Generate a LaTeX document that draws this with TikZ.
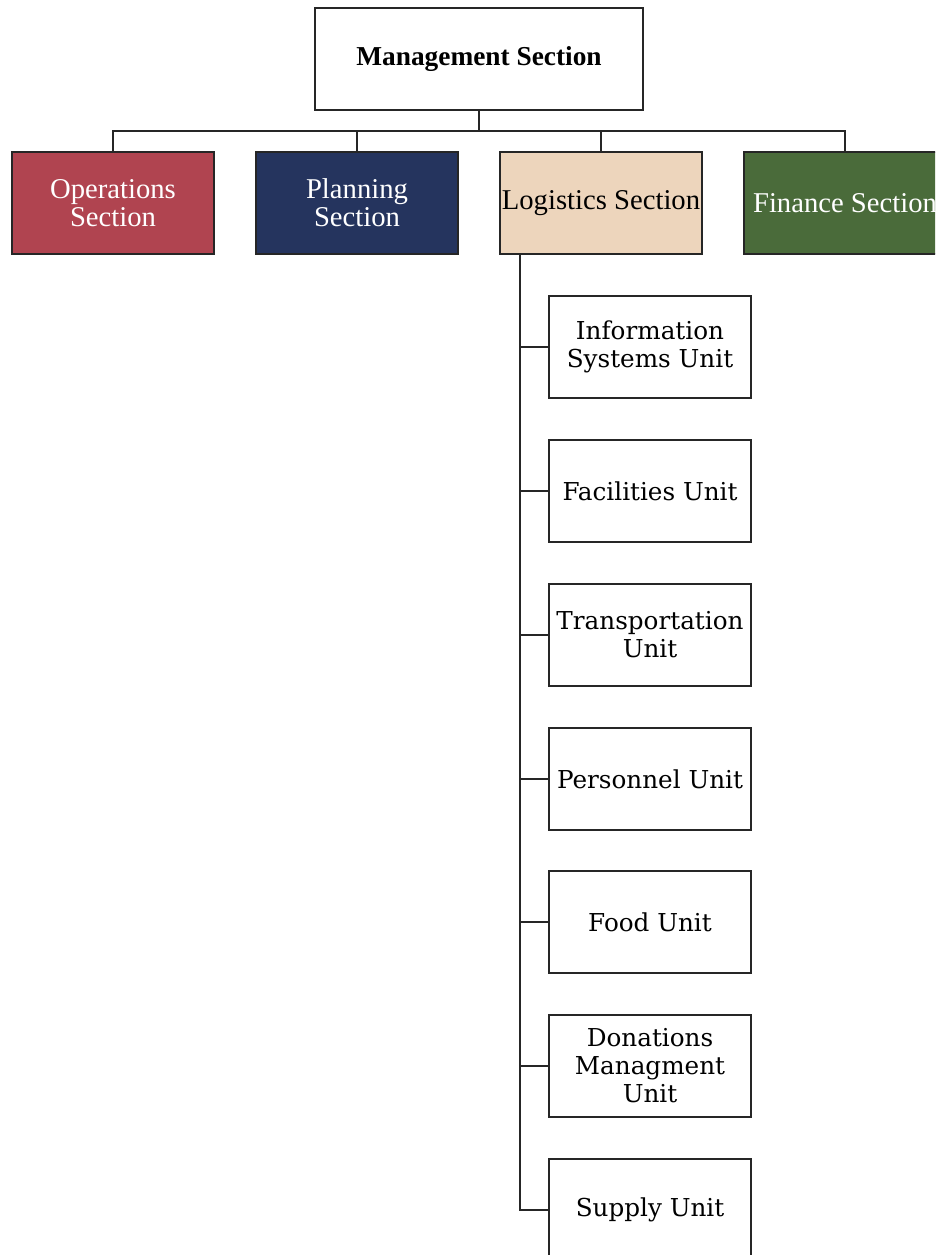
\documentclass[tikz,border=0pt]{standalone}
\usepackage{fontspec}
\setmainfont{Liberation Serif}
\newfontfamily\unitfont{DejaVu Serif}
\definecolor{opsred}{RGB}{176,68,80}
\definecolor{plannavy}{RGB}{37,52,94}
\definecolor{logtan}{RGB}{237,213,188}
\definecolor{fingreen}{RGB}{74,107,58}
\tikzset{
  box/.style={draw=black!85, line width=1.8pt, minimum width=151.5pt, minimum height=76.5pt, align=center, inner sep=0pt},
  secbox/.style={box, font=\fontsize{21.5}{21}\selectfont},
  unitbox/.style={box, font=\unitfont\fontsize{18.5}{21}\selectfont},
  link/.style={draw=black!85, line width=1.8pt}
}
\begin{document}
\begin{tikzpicture}[x=0.75pt, y=-0.75pt]
  \clip (0,0) rectangle (935,1255);
  \fill[white] (0,0) rectangle (935,1255);
  % top level
  \node[box, minimum width=246pt, font=\bfseries\fontsize{20.5}{22}\selectfont] (M) at (479,59) {Management Section};
  % sections
  \node[secbox, fill=opsred, text=white] (O) at (113,203) {Operations\\Section};
  \node[secbox, fill=plannavy, text=white] (P) at (357,203) {Planning\\Section};
  \node[secbox, fill=logtan, text=black] (L) at (601,203) {Logistics Section};
  \node[secbox, fill=fingreen, text=white] (F) at (845,203) {Finance Section};
  \coordinate (bus) at (479,131);
  \draw[link] (M.south) -- (bus);
  \draw[link] (O.north) |- (bus) -| (F.north);
  \draw[link] (P.north) -- (P.north |- bus);
  \draw[link] (L.north) -- (L.north |- bus);
  % logistics units
  \node[unitbox] (U1) at (650,347) {Information\\Systems Unit};
  \node[unitbox] (U2) at (650,491) {Facilities Unit};
  \node[unitbox] (U3) at (650,635) {Transportation\\Unit};
  \node[unitbox] (U4) at (650,779) {Personnel Unit};
  \node[unitbox] (U5) at (650,922) {Food Unit};
  \node[unitbox] (U6) at (650,1066) {Donations\\Managment\\Unit};
  \node[unitbox] (U7) at (650,1210) {Supply Unit};
  \coordinate (trunk) at (520,254);
  \draw[link] (L.south -| trunk) -- (trunk |- U7.west) -- (U7.west);
  \foreach \u in {U1,U2,U3,U4,U5,U6}
    \draw[link] (trunk |- \u.west) -- (\u.west);
\end{tikzpicture}
\end{document}
